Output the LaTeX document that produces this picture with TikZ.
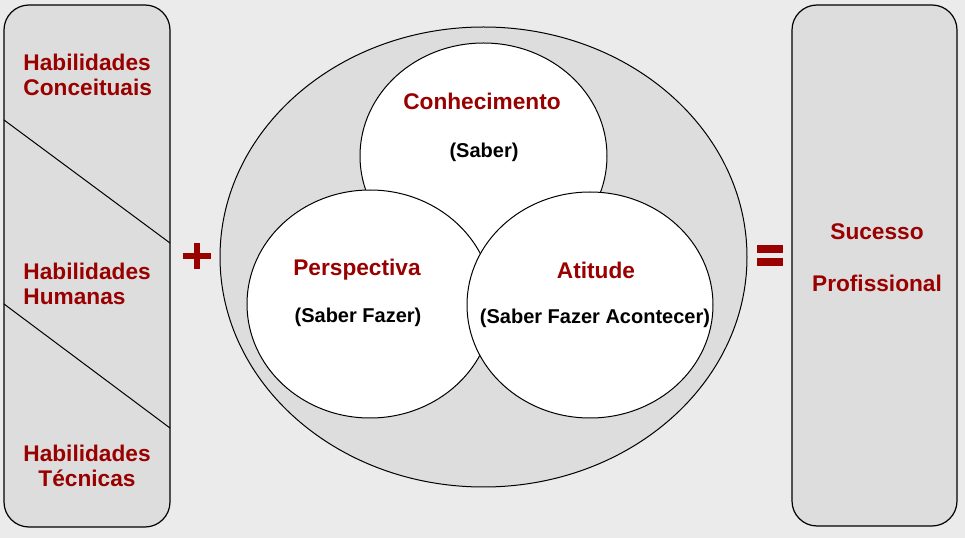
\documentclass[tikz,border=0pt]{standalone}
\usepackage{fontspec}
\setmainfont{Liberation Sans}
\usetikzlibrary{shapes.geometric}

\definecolor{bgGray}{RGB}{234,235,234}
\definecolor{boxGray}{RGB}{221,221,221}
\definecolor{darkRed}{RGB}{153,0,0}

\tikzset{every picture/.style={line width=0.75pt}}
\tikzset{
  sidebox/.style={draw=black, fill=boxGray, rounded corners=18.75pt, line width=0.9pt, inner sep=0pt},
  bigoval/.style={ellipse, draw=black, fill=boxGray, inner sep=0pt},
  ring/.style={ellipse, draw=black, fill=white, inner sep=0pt},
  title/.style={inner sep=0pt, text=darkRed, font=\bfseries\fontsize{17}{18.75}\selectfont},
  subtitle/.style={inner sep=0pt, text=black, font=\bfseries\fontsize{15}{18}\selectfont},
  signbar/.style={fill=darkRed, draw=none}
}

\begin{document}
\begin{tikzpicture}[x=0.75pt,y=0.75pt,yscale=-1,xscale=1]
%set diagram to 965 x 538
\fill [bgGray] (0,0) rectangle (965,538);
\useasboundingbox (0,0) rectangle (965,538);

%Rounded Rect [id:left]
\node [sidebox, minimum width=124.5pt, minimum height=391.5pt] (habBox) at (87,266) {};
%Straight Lines
\coordinate (cutA1) at (4,120);
\coordinate (cutA2) at (170,243);
\coordinate (cutB1) at (4,304);
\coordinate (cutB2) at (170,428);
\draw (cutA1) -- (cutA2) ;
\draw (cutB1) -- (cutB2) ;

%Rounded Rect [id:right]
\node [sidebox, minimum width=123.75pt, minimum height=390.75pt] (sucBox) at (874.5,265.5) {};

%Shape: Ellipse
\node [bigoval, minimum width=395.25pt, minimum height=345pt] (oval) at (483.5,257) {};
%Shape: Circles
\node [ring, minimum width=185.25pt, minimum height=169.5pt] (saber) at (483.5,156) {};
\node [ring, minimum width=184.5pt, minimum height=171pt] (fazer) at (370,304) {};
\node [ring, minimum width=184.5pt, minimum height=169.5pt] (acontecer) at (590,305) {};

%Plus sign
\fill [signbar] (183,253) rectangle (211,259.5) ;
\fill [signbar] (193.75,243) rectangle (200.25,269) ;
%Equal sign
\fill [signbar] (757,245) rectangle (783,253) ;
\fill [signbar] (757,258) rectangle (783,266) ;

% Text Node
\node [title, anchor=west, align=left] (conceituais) at (23,74.5) {Habilidades\\Conceituais};
% Text Node
\node [title, anchor=west, align=left] (humanas) at (23,284) {Habilidades\\Humanas};
% Text Node
\node [title, align=center] (tecnicas) at (87,466) {Habilidades\\Técnicas};
% Text Node
\node [title] (conhecimento) at (482,101) {Conhecimento};
\node [subtitle] (saberTxt) at (484,152) {(Saber)};
% Text Node
\node [title] (perspectiva) at (357,270) {Perspectiva};
\node [subtitle] (fazerTxt) at (358,317) {(Saber Fazer)};
% Text Node
\node [title] (atitude) at (596,270) {Atitude};
\node [subtitle] (acontecerTxt) at (595,318) {(Saber Fazer Acontecer)};
% Text Node
\node [title] (sucesso) at (877,232) {Sucesso};
\node [title] (profissional) at (877,283) {Profissional};

\end{tikzpicture}
\end{document}
